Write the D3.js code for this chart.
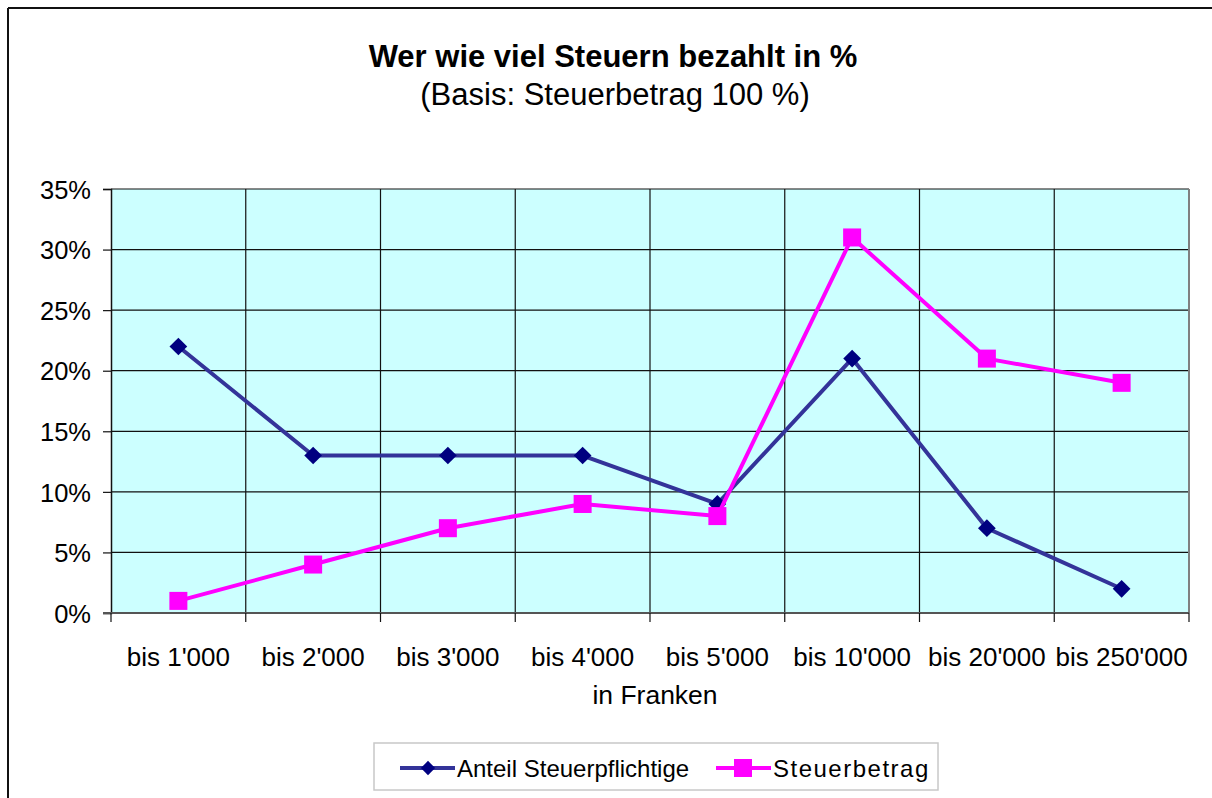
<!DOCTYPE html>
<html>
<head>
<meta charset="utf-8">
<script src="https://cdn.jsdelivr.net/npm/d3@7"></script>
<style>
  body { margin: 0; background: #fff; }
  text { font-family: Arial, "Liberation Sans", sans-serif; fill: #000; }
</style>
</head>
<body>
<div id="chart"></div>
<script>
// categories and values (percent)
var categories = ["bis 1'000", "bis 2'000", "bis 3'000", "bis 4'000", "bis 5'000", "bis 10'000", "bis 20'000", "bis 250'000"];
var anteil = [22, 13, 13, 13, 9, 21, 7, 2];
var steuerbetrag = [1, 4, 7, 9, 8, 31, 21, 19];
var yTicks = [0, 5, 10, 15, 20, 25, 30, 35];

var width = 1212,
    height = 798;

var plot = { left: 111, right: 1189, top: 189, bottom: 613 };

var svg = d3.select("#chart").append("svg")
    .attr("width", width)
    .attr("height", height);

// outer frame (only top and left visible)
svg.append("line")
    .attr("x1", 8).attr("y1", 8).attr("x2", width).attr("y2", 8)
    .attr("stroke", "#111").attr("stroke-width", 2);
svg.append("line")
    .attr("x1", 8).attr("y1", 8).attr("x2", 8).attr("y2", height)
    .attr("stroke", "#111").attr("stroke-width", 2);

var x = d3.scaleBand()
    .domain(categories)
    .range([plot.left, plot.right])
    .padding(0);

var y = d3.scaleLinear()
    .domain([0, 35])
    .range([plot.bottom, plot.top]);

// plot background
svg.append("rect")
    .attr("x", plot.left)
    .attr("y", plot.top)
    .attr("width", plot.right - plot.left)
    .attr("height", plot.bottom - plot.top)
    .attr("fill", "#ccffff");

// horizontal grid
svg.selectAll(".hgrid")
    .data(yTicks.slice(1))
    .enter().append("line")
    .attr("class", "hgrid")
    .attr("x1", plot.left).attr("x2", plot.right)
    .attr("y1", function(d) { return y(d); })
    .attr("y2", function(d) { return y(d); })
    .attr("stroke", "#111").attr("stroke-width", 1.2);

// vertical grid at category boundaries
svg.selectAll(".vgrid")
    .data(categories.slice(1))
    .enter().append("line")
    .attr("class", "vgrid")
    .attr("x1", function(d) { return x(d); })
    .attr("x2", function(d) { return x(d); })
    .attr("y1", plot.top).attr("y2", plot.bottom)
    .attr("stroke", "#111").attr("stroke-width", 1.2);

// plot border right grey
svg.append("line")
    .attr("x1", plot.right).attr("x2", plot.right)
    .attr("y1", plot.top).attr("y2", plot.bottom)
    .attr("stroke", "#808080").attr("stroke-width", 2);

// y axis
var yAxis = d3.axisLeft(y)
    .tickValues(yTicks)
    .tickSize(8)
    .tickPadding(12)
    .tickFormat(function(d) { return d + "%"; });

var gy = svg.append("g")
    .attr("transform", "translate(" + plot.left + ",0)")
    .call(yAxis);
gy.select(".domain").attr("stroke", "#111").attr("stroke-width", 1.5);
gy.selectAll(".tick line").attr("stroke", "#111").attr("stroke-width", 1.2);
gy.selectAll(".tick text")
    .style("font-size", "25.5px")
    .style("font-family", "Arial, 'Liberation Sans', sans-serif")
    .attr("dy", "0.36em")
    .attr("fill", "#000");

// x axis: ticks at boundaries, labels at centers
var boundaries = categories.map(function(c) { return x(c); }).concat([plot.right]);

svg.append("line")
    .attr("x1", plot.left - 8).attr("x2", plot.right)
    .attr("y1", plot.bottom).attr("y2", plot.bottom)
    .attr("stroke", "#555").attr("stroke-width", 2);

svg.selectAll(".xtick")
    .data(boundaries)
    .enter().append("line")
    .attr("class", "xtick")
    .attr("x1", function(d) { return d; })
    .attr("x2", function(d) { return d; })
    .attr("y1", plot.bottom).attr("y2", plot.bottom + 9)
    .attr("stroke", "#111").attr("stroke-width", 1.2);

svg.selectAll(".xlabel")
    .data(categories)
    .enter().append("text")
    .attr("class", "xlabel")
    .attr("x", function(d) { return x(d) + x.bandwidth() / 2; })
    .attr("y", 666)
    .attr("text-anchor", "middle")
    .style("font-size", "26px")
    .text(function(d) { return d; });

// axis title
svg.append("text")
    .attr("x", (plot.left + plot.right) / 2 + 5)
    .attr("y", 704)
    .attr("text-anchor", "middle")
    .style("font-size", "26.5px")
    .text("in Franken");

// titles
svg.append("text")
    .attr("x", 613)
    .attr("y", 67)
    .attr("text-anchor", "middle")
    .style("font-size", "31px")
    .style("font-weight", "bold")
    .text("Wer wie viel Steuern bezahlt in %");

svg.append("text")
    .attr("x", 615)
    .attr("y", 105)
    .attr("text-anchor", "middle")
    .style("font-size", "31px")
    .text("(Basis: Steuerbetrag 100 %)");

// lines
var line = d3.line()
    .x(function(d, i) { return x(categories[i]) + x.bandwidth() / 2; })
    .y(function(d) { return y(d); });

var diamond = d3.symbol().type(d3.symbolDiamond2).size(200);

function drawSeries(values, lineColor, markerColor, shape) {
    svg.append("path")
        .datum(values)
        .attr("d", line)
        .attr("fill", "none")
        .attr("stroke", lineColor)
        .attr("stroke-width", 4)
        .attr("stroke-linejoin", "round");

    var g = svg.selectAll(null)
        .data(values)
        .enter().append("g")
        .attr("transform", function(d, i) {
            return "translate(" + (x(categories[i]) + x.bandwidth() / 2) + "," + y(d) + ")";
        });
    if (shape === "diamond") {
        g.append("path").attr("d", diamond).attr("fill", markerColor);
    } else {
        g.append("rect")
            .attr("x", -9).attr("y", -9)
            .attr("width", 18).attr("height", 18)
            .attr("fill", markerColor);
    }
}

drawSeries(anteil, "#333399", "#000080", "diamond");
drawSeries(steuerbetrag, "#ff00ff", "#ff00ff", "square");

// legend
var legend = svg.append("g");
legend.append("rect")
    .attr("x", 374).attr("y", 743)
    .attr("width", 564).attr("height", 47)
    .attr("fill", "#fff")
    .attr("stroke", "#c8c8c8")
    .attr("stroke-width", 1.5);

var legendItems = [
    { name: "Anteil Steuerpflichtige", line: "#333399", marker: "#000080", shape: "diamond", x: 400, spacing: 0 },
    { name: "Steuerbetrag", line: "#ff00ff", marker: "#ff00ff", shape: "square", x: 716, spacing: 1.5 }
];

legendItems.forEach(function(it) {
    var ly = 768;
    legend.append("line")
        .attr("x1", it.x).attr("x2", it.x + 55)
        .attr("y1", ly).attr("y2", ly)
        .attr("stroke", it.line).attr("stroke-width", 4);
    if (it.shape === "diamond") {
        legend.append("path")
            .attr("d", d3.symbol().type(d3.symbolDiamond2).size(130))
            .attr("transform", "translate(" + (it.x + 28) + "," + ly + ")")
            .attr("fill", it.marker);
    } else {
        legend.append("rect")
            .attr("x", it.x + 18).attr("y", ly - 9)
            .attr("width", 18).attr("height", 18)
            .attr("fill", it.marker);
    }
    legend.append("text")
        .attr("x", it.x + 57)
        .attr("y", ly + 9)
        .style("font-size", "24px")
        .style("letter-spacing", it.spacing + "px")
        .text(it.name);
});
</script>
</body>
</html>
